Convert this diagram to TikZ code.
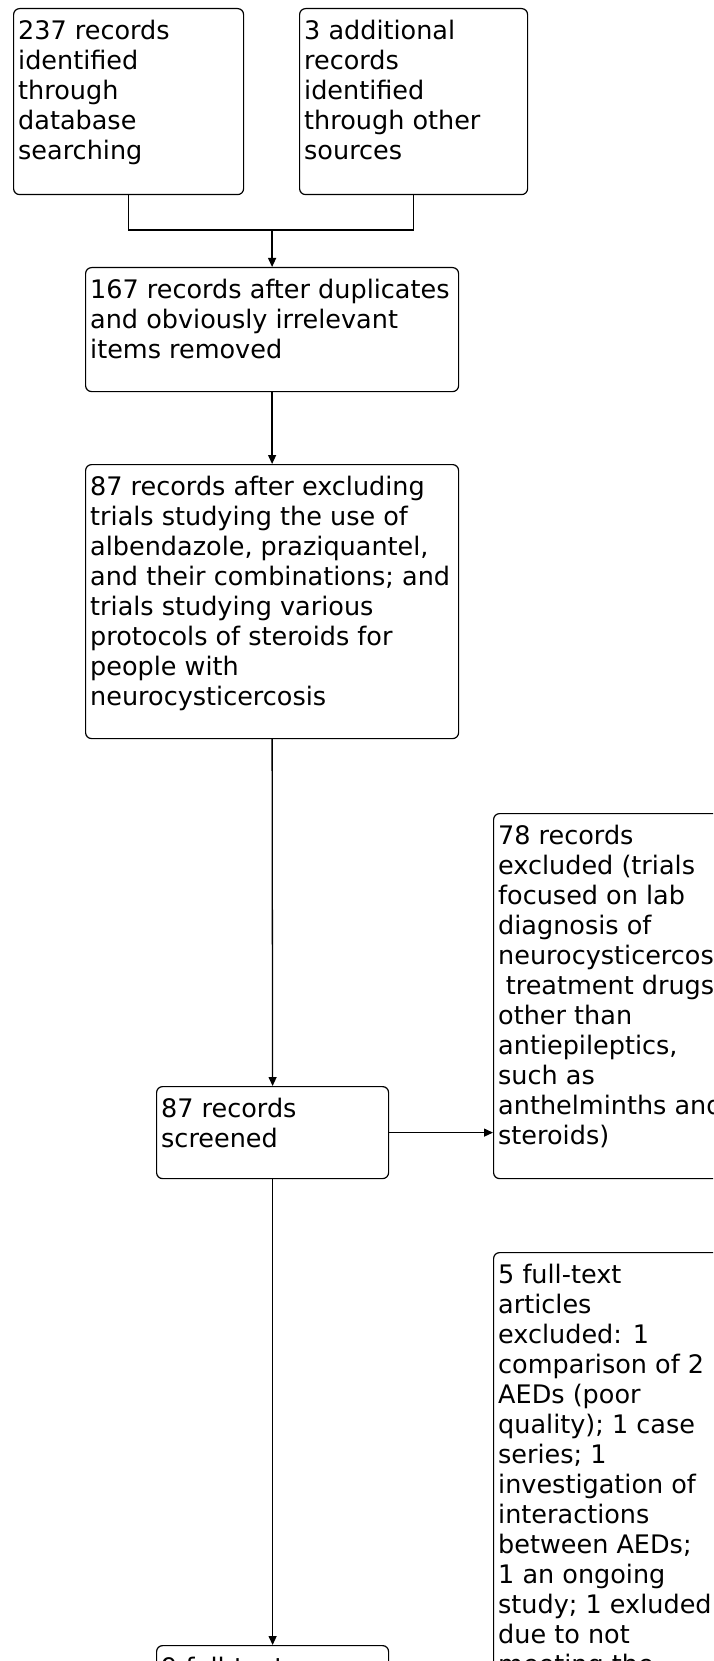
\documentclass[tikz,border=0pt]{standalone}
\usepackage{fontspec}
\setmainfont{DejaVu Sans}
\usetikzlibrary{arrows.meta,positioning,calc}

\tikzset{
  box/.style={draw, line width=1.2pt, rounded corners=6pt, anchor=north west, inner sep=0pt},
  txt/.style={anchor=north west, align=left, inner xsep=5pt, inner ysep=10pt,
    font=\fontsize{25.5}{30}\selectfont},
  arr/.style={-{Triangle[length=9pt,width=8pt]}, line width=1.3pt},
  link/.style={line width=1.3pt}
}

\begin{document}
\begin{tikzpicture}[x=1pt,y=-1pt]
    \useasboundingbox (0,0) rectangle (713,1661);
    \clip (0,0) rectangle (713,1661);
    \node[box, minimum width=230, minimum height=186, label={[txt]north west:{\strut 237 records\\identified\\through\\database\\searching}}] (db-search) at (13,8) {};
    \node[box, minimum width=228, minimum height=186, label={[txt]north west:{\strut 3 additional\\records\\identified\\through other\\sources}}] (other-src) at (299,8) {};
    \node[box, minimum width=373, minimum height=124, label={[txt]north west:{\strut 167 records after duplicates\\and obviously irrelevant\\items removed}}] (dup-removed) at (85,267) {};
    \node[box, minimum width=373, minimum height=274, label={[txt]north west:{\strut 87 records after excluding\\trials studying the use of\\albendazole, praziquantel,\\and their combinations; and\\trials studying various\\protocols of steroids for\\people with\\neurocysticercosis}}] (excl-trials) at (85,464) {};
    \node[box, minimum width=232, minimum height=92, label={[txt]north west:{\strut 87 records\\screened}}] (screened) at (156,1086) {};
    \node[box, minimum width=260, minimum height=365, label={[txt]north west:{\strut 78 records\\excluded (trials\\focused on lab\\diagnosis of\\neurocysticercosis;\\\hspace{0.3em}treatment drugs\\other than\\antiepileptics,\\such as\\anthelminths and\\steroids)}}] (rec-excl) at (493,813) {};
    \node[box, minimum width=260, minimum height=520, label={[txt]north west:{\strut 5 full-text\\articles\\excluded: 1\\comparison of 2\\AEDs (poor\\quality); 1 case\\series; 1\\investigation of\\interactions\\between AEDs;\\1 an ongoing\\study; 1 exluded\\due to not\\meeting the}}] (ft-excl) at (493,1252) {};
    \node[box, minimum width=232, minimum height=120, label={[txt]north west:{\strut 9 full-text}}] (ft-assessed) at (156,1645) {};
    % connectors
    \coordinate (join) at (dup-removed.north |- 0,230);
    \draw[link] (db-search.south) |- (join) -| (other-src.south);
    \draw[arr] (join) -- (dup-removed.north);
    \draw[arr] (dup-removed.south) -- (excl-trials.north);
    \draw[arr] (excl-trials.south) -- (screened.north);
    \draw[arr] (screened.east) -- (rec-excl.west |- screened.east);
    \draw[arr] (screened.south) -- (ft-assessed.north);
\end{tikzpicture}
\end{document}
